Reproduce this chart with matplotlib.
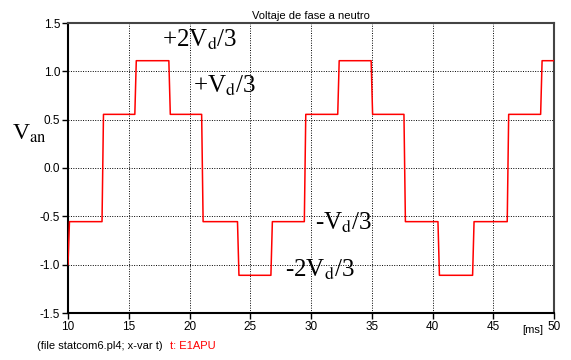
import matplotlib
matplotlib.use('Agg')
import matplotlib.pyplot as plt
import numpy as np

plt.rcParams['font.family'] = 'Liberation Sans'
plt.rcParams['mathtext.fontset'] = 'stix'

# switching instants [ms] and the level reached after each one
t_switch = [10.0, 12.8, 15.5, 18.3, 21.0, 23.95, 26.7, 29.45, 32.2, 34.95,
            37.65, 40.45, 43.3, 46.15, 48.9]
v_after = [-0.555, 0.555, 1.11, 0.555, -0.555, -1.11, -0.555, 0.555, 1.11, 0.555,
           -0.555, -1.11, -0.555, 0.555, 1.11]
v_start = -1.0
t_end = 50.0

xticks = [10, 15, 20, 25, 30, 35, 40, 45, 50]
yticks = [-1.5, -1.0, -0.5, 0.0, 0.5, 1.0, 1.5]

# build waveform with short ramps at each switch
ramp = 0.12
xs, ys = [], []
prev = v_start
for t, v in zip(t_switch, v_after):
    xs += [t, t + ramp]
    ys += [prev, v]
    prev = v
xs.append(t_end)
ys.append(prev)

W, H = 571, 360
fig = plt.figure(figsize=(W / 100, H / 100), dpi=100)
ax = fig.add_axes([68 / W, 1 - 313 / H, (554 - 68) / W, (313 - 23) / H])

ax.plot(xs, ys, color='#ff0000', lw=1.1, zorder=3)

ax.set_xlim(10, 50)
ax.set_ylim(-1.5, 1.5)
ax.set_xticks(xticks)
ax.set_yticks(yticks)
ax.set_xticklabels([str(x) for x in xticks])
ax.set_yticklabels(['%.1f' % y for y in yticks])
ax.tick_params(direction='out', length=4, width=1, labelsize=8.5, pad=1.5)
ax.grid(True, color='black', linestyle=(0, (1, 1.5)), lw=0.7)

for s in ['left', 'bottom']:
    ax.spines[s].set_linewidth(1.5)
    ax.spines[s].set_color('black')
for s in ['top', 'right']:
    ax.spines[s].set_linewidth(1.5)
    ax.spines[s].set_color('#444444')

ax.set_title('Voltaje de fase a neutro', fontsize=8, pad=3)

# annotations (serif)
serif = dict(family='Liberation Serif', fontsize=18, color='black')
fig.text(162 / W, 1 - 47 / H, '+2V$_{\\mathrm{d}}$/3', **serif)
fig.text(193 / W, 1 - 93 / H, '+V$_{\\mathrm{d}}$/3', **serif)
fig.text(315 / W, 1 - 230 / H, '-V$_{\\mathrm{d}}$/3', **serif)
fig.text(285 / W, 1 - 277 / H, '-2V$_{\\mathrm{d}}$/3', **serif)
fig.text(12 / W, 1 - 140 / H, 'V$_{\\mathrm{an}}$', family='Liberation Serif',
         fontsize=17, color='black')

fig.text(522 / W, 1 - 333 / H, '[ms]', fontsize=8)
fig.text(37 / W, 1 - 349 / H, '(file statcom6.pl4; x-var t)', fontsize=8)
fig.text(170 / W, 1 - 349 / H, 't: E1APU', fontsize=8, color='#ff0000')

fig.savefig('out.png', dpi=100)
